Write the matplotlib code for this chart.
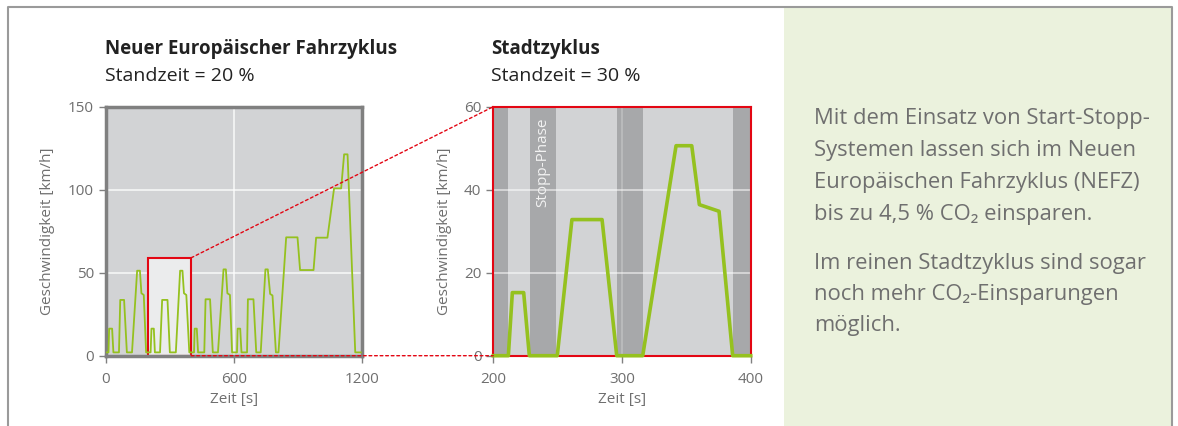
import matplotlib.pyplot as plt
from matplotlib.patches import Rectangle, ConnectionPatch
from matplotlib.lines import Line2D

plt.rcParams['font.family'] = ['Open Sans', 'DejaVu Sans']

W, H = 1178, 426

# Neuer Europaeischer Fahrzyklus (4x Stadtzyklus + Ausserstadt)
nefz_t = [0, 13, 16, 30, 36, 62, 68, 86, 99, 123, 147, 160, 167, 178, 189,
          210, 214, 225, 230, 254, 264, 289, 300, 328, 348, 359, 366, 377, 391,
          413, 416, 426, 432, 461, 467, 488, 501, 525, 551, 562, 569, 581, 591,
          614, 617, 629, 635, 661, 665, 691, 704, 725, 747, 758, 769, 780, 796,
          808, 844, 897, 909, 972, 984, 1037, 1068, 1101, 1115, 1131, 1167, 1193]
nefz_v = [2, 2, 16.3, 16.3, 2, 2, 33.6, 33.6, 2, 2, 51.2, 51.2, 37.6, 36.6, 2,
          2, 16.3, 16.3, 2, 2, 33.6, 33.6, 2, 2, 51.2, 51.2, 37.6, 36.6, 2,
          2, 16.3, 16.3, 2, 2, 34, 34, 2, 2, 52, 52, 37.6, 36.6, 2,
          2, 16.3, 16.3, 2, 2, 34, 34, 2, 2, 52, 52, 37.2, 36.3, 2,
          2, 71.3, 71.3, 51.6, 51.6, 71.1, 71.1, 100.8, 100.8, 121.3, 121.3, 2, 2]

# Ausschnitt Stadtzyklus 200-400 s
stadt_t = [200, 211.7, 214.8, 223.6, 228, 249.7, 261.1, 284.5, 295.9, 316.1,
           342, 354.2, 360.1, 375.4, 386, 400]
stadt_v = [0, 0, 15.2, 15.2, 0, 0, 32.8, 32.8, 0, 0,
           50.6, 50.6, 36.4, 34.8, 0, 0]
stopp_start = [200, 228.5, 296.4, 386]
stopp_end = [211.7, 248.7, 316.1, 400]

zoom_t = (200, 400)
zoom_v = 59

titel_links = ['Neuer Europäischer Fahrzyklus', 'Standzeit = 20 %']
titel_rechts = ['Stadtzyklus', 'Standzeit = 30 %']
absatz1 = ['Mit dem Einsatz von Start-Stopp-', 'Systemen lassen sich im Neuen',
           'Europäischen Fahrzyklus (NEFZ)', 'bis zu 4,5 % CO₂ einsparen.']
absatz2 = ['Im reinen Stadtzyklus sind sogar', 'noch mehr CO₂-Einsparungen',
           'möglich.']

GREEN = '#95c11f'
RED = '#e30613'
PLOT_BG = '#d2d3d5'
BAND = '#a7a8aa'
TXT = '#6f6f6f'
FRAME = '#808080'


def fx(x):
    return x / W


def fy(y):
    return 1 - y / H


fig = plt.figure(figsize=(W / 100, H / 100), dpi=100)

# Rahmen und gruener Kasten
fig.add_artist(Rectangle((fx(784), 0), fx(1171) - fx(784), fy(7), transform=fig.transFigure,
                         facecolor='#ebf2dd', edgecolor='none', zorder=0))
fig.add_artist(Line2D([fx(7.5), fx(7.5), fx(1172), fx(1172)], [0, fy(7), fy(7), 0],
                      transform=fig.transFigure, color='#9a9a9a', lw=1.5))


def style_axes(ax, spine_col, spine_lw):
    ax.set_facecolor(PLOT_BG)
    for s in ax.spines.values():
        s.set_color(spine_col)
        s.set_linewidth(spine_lw)
    ax.tick_params(colors=FRAME, labelcolor=TXT, labelsize=11, length=5, width=1)
    ax.tick_params(axis='x', pad=7)
    ax.set_xlabel('Zeit [s]', color=TXT, fontsize=11, labelpad=3)
    ax.set_ylabel('Geschwindigkeit [km/h]', color=TXT, fontsize=11, labelpad=9)


# linkes Diagramm
ax1 = fig.add_axes([fx(105.7), fy(355.7), fx(362.3) - fx(105.7), fy(106.7) - fy(355.7)])
style_axes(ax1, FRAME, 2.5)
ax1.set_xlim(0, 1200)
ax1.set_ylim(0, 150)
ax1.set_xticks([0, 600, 1200])
ax1.set_yticks([0, 50, 100, 150])
for v in [50, 100]:
    ax1.axhline(v, color='white', lw=1.2, alpha=0.8, zorder=1)
ax1.axvline(600, color='white', lw=1.2, alpha=0.8, zorder=1)
ax1.add_patch(Rectangle((zoom_t[0], 0), zoom_t[1] - zoom_t[0], zoom_v, facecolor='#ebeced',
                        edgecolor=RED, lw=1.5, zorder=2))
ax1.plot(nefz_t, nefz_v, color=GREEN, lw=1.3, zorder=3)

# rechtes Diagramm
ax2 = fig.add_axes([fx(493.3), fy(355.7), fx(750.7) - fx(493.3), fy(106.7) - fy(355.7)])
style_axes(ax2, RED, 1.5)
ax2.set_xlim(200, 400)
ax2.set_ylim(0, 60)
ax2.set_xticks([200, 300, 400])
ax2.set_yticks([0, 20, 40, 60])
for a, b in zip(stopp_start, stopp_end):
    ax2.axvspan(a, b, color=BAND, lw=0, zorder=1)
for v in [20, 40]:
    ax2.axhline(v, color='white', lw=1.2, alpha=0.6, zorder=2)
ax2.axvline(300, color='white', lw=1.2, alpha=0.25, zorder=2)
ax2.text((stopp_start[1] + stopp_end[1]) / 2, 57.3, 'Stopp-Phase', rotation=90,
         ha='center', va='top', color='#f2f2f2', fontsize=11, zorder=3)
ax2.plot(stadt_t, stadt_v, color=GREEN, lw=2.6, zorder=4, clip_on=False)

# Verbindungslinien
for ya, yb in [(zoom_v, 60), (0, 0)]:
    con = ConnectionPatch(xyA=(zoom_t[1], ya), coordsA=ax1.transData,
                          xyB=(zoom_t[0], yb), coordsB=ax2.transData,
                          color=RED, lw=1, ls=(0, (2, 2)), zorder=5)
    fig.add_artist(con)

# Titel
fig.text(fx(105), fy(54), titel_links[0], fontsize=13.5, fontweight='bold', color='#222222')
fig.text(fx(105), fy(81), titel_links[1], fontsize=14, color='#222222')
fig.text(fx(491), fy(54), titel_rechts[0], fontsize=13.5, fontweight='bold', color='#222222')
fig.text(fx(491), fy(81), titel_rechts[1], fontsize=14, color='#222222')

# Erlaeuterung
y = 124
for line in absatz1:
    fig.text(fx(814), fy(y), line, fontsize=15.8, color=TXT)
    y += 32
y += 17
for line in absatz2:
    fig.text(fx(814), fy(y), line, fontsize=15.8, color=TXT)
    y += 31

fig.savefig('out.png', dpi=100)
